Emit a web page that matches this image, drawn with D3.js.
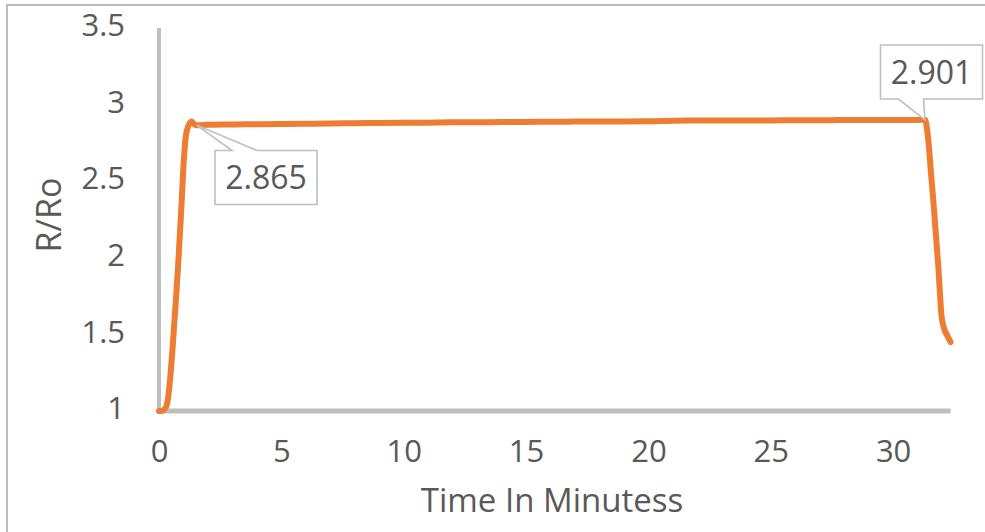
<!DOCTYPE html>
<html>
<head>
<meta charset="utf-8">
<script src="https://cdn.jsdelivr.net/npm/d3@7"></script>
<style>
  html, body { margin: 0; padding: 0; background: #fff; }
  svg { display: block; font-family: "Open Sans", "DejaVu Sans", sans-serif; }
</style>
</head>
<body>
<svg id="chart" width="985" height="532"></svg>
<script>
// Time (minutes) and normalised resistance R/Ro
const times = [
  0, 0.1, 0.3, 0.42, 0.55, 0.68, 0.8, 0.92, 1.02, 1.1, 1.2, 1.33, 1.45, 1.55,
  2, 3, 4, 5, 6, 7, 8, 9, 10, 11, 12, 13, 14, 15, 16, 17, 18, 19, 20,
  21, 22, 23, 24, 25, 26, 27, 28, 29, 30, 31, 31.3,
  31.45, 31.55, 31.64, 31.85, 31.98, 32.1, 32.19, 32.35
];
const ratio = [
  1.0, 1.0, 1.03, 1.15, 1.4, 1.7, 2.0, 2.35, 2.65, 2.8, 2.86, 2.89, 2.87, 2.865,
  2.868, 2.870, 2.872, 2.874, 2.875, 2.877, 2.879, 2.880, 2.881, 2.882, 2.884, 2.885, 2.886, 2.887, 2.888, 2.889, 2.889, 2.890, 2.891,
  2.895, 2.896, 2.896, 2.897, 2.897, 2.898, 2.898, 2.899, 2.899, 2.900, 2.900, 2.901,
  2.75, 2.55, 2.38, 1.94, 1.62, 1.53, 1.5, 1.45
];
const xTicks = [0, 5, 10, 15, 20, 25, 30];
const yTicks = [1, 1.5, 2, 2.5, 3, 3.5];
// Labelled points: [index into series, label text]
const callouts = [
  { i: 13, text: "2.865" },
  { i: 44, text: "2.901" }
];

const data = times.map((t, k) => ({ t, v: ratio[k] }));

const svg = d3.select("#chart");
const textColor = "#595959";
const axisColor = "#bfbfbf";

const x = d3.scaleLinear().domain([0, 32.35]).range([159, 950.6]);
const y = d3.scaleLinear().domain([1, 3.5]).range([411, 28]);

// Chart frame
svg.append("rect")
  .attr("x", 7).attr("y", 5).attr("width", 1000).attr("height", 600)
  .attr("fill", "none").attr("stroke", "#a6a6a6").attr("stroke-width", 1.5);

// Axis lines
svg.append("line")
  .attr("x1", x(0)).attr("x2", x(0)).attr("y1", y(3.5)).attr("y2", y(1))
  .attr("stroke", axisColor).attr("stroke-width", 4);
svg.append("line")
  .attr("x1", x(0) - 2).attr("x2", x(32.35)).attr("y1", y(1)).attr("y2", y(1))
  .attr("stroke", axisColor).attr("stroke-width", 5);

// Tick labels
const yAxis = svg.append("g")
  .attr("transform", "translate(125,0)")
  .call(d3.axisLeft(y).tickValues(yTicks).tickSize(0).tickPadding(0).tickFormat(d3.format("")));
yAxis.select(".domain").remove();
yAxis.selectAll("text")
  .attr("dy", "0.25em")
  .attr("fill", textColor).style("font-size", "31px")
  .style("font-family", '"Open Sans", sans-serif');

const xAxis = svg.append("g")
  .attr("transform", "translate(0,440)")
  .call(d3.axisBottom(x).tickValues(xTicks).tickSize(0).tickPadding(0).tickFormat(d3.format("")));
xAxis.select(".domain").remove();
xAxis.selectAll("text")
  .attr("dy", "0.71em")
  .attr("fill", textColor).style("font-size", "31px")
  .style("font-family", '"Open Sans", sans-serif');

// Axis titles
svg.append("text")
  .attr("x", 552).attr("y", 512)
  .attr("text-anchor", "middle")
  .attr("fill", textColor).style("font-size", "33px")
  .text("Time In Minutess");

svg.append("text")
  .attr("transform", "translate(61,215) rotate(-90)")
  .attr("text-anchor", "middle")
  .attr("fill", textColor).style("font-size", "34px")
  .text("R/Ro");

// Series line
const line = d3.line()
  .x(d => x(d.t))
  .y(d => y(d.v))
  .curve(d3.curveMonotoneX);

svg.append("path")
  .datum(data)
  .attr("d", line)
  .attr("fill", "none")
  .attr("stroke", "#ed7d31")
  .attr("stroke-width", 6)
  .attr("stroke-linejoin", "round")
  .attr("stroke-linecap", "round");

// Data callouts
const boxW = 102, boxH = 54;
function drawCallout(c, bx, by, side, p1, p2) {
  const d = data[c.i];
  const px = x(d.t), py = y(d.v);
  const g = svg.append("g");
  let path;
  if (side === "top") {
    path = `M${bx},${by} L${bx + p1},${by} L${px},${py} L${bx + p2},${by} L${bx + boxW},${by} L${bx + boxW},${by + boxH} L${bx},${by + boxH} Z`;
  } else {
    path = `M${bx},${by} L${bx + boxW},${by} L${bx + boxW},${by + boxH} L${bx + p2},${by + boxH} L${px},${py} L${bx + p1},${by + boxH} L${bx},${by + boxH} Z`;
  }
  g.append("path").attr("d", path)
    .attr("fill", "#fff").attr("stroke", axisColor).attr("stroke-width", 1.6)
    .attr("stroke-linejoin", "miter");
  g.append("text")
    .attr("x", bx + boxW / 2).attr("y", by + boxH / 2)
    .attr("dy", "0.36em")
    .attr("text-anchor", "middle")
    .attr("fill", textColor).style("font-size", "32px")
    .text(c.text);
}
drawCallout(callouts[0], 215, 150.5, "top", 17, 42);
drawCallout(callouts[1], 880.5, 45, "bottom", 18, 43);
</script>
</body>
</html>
